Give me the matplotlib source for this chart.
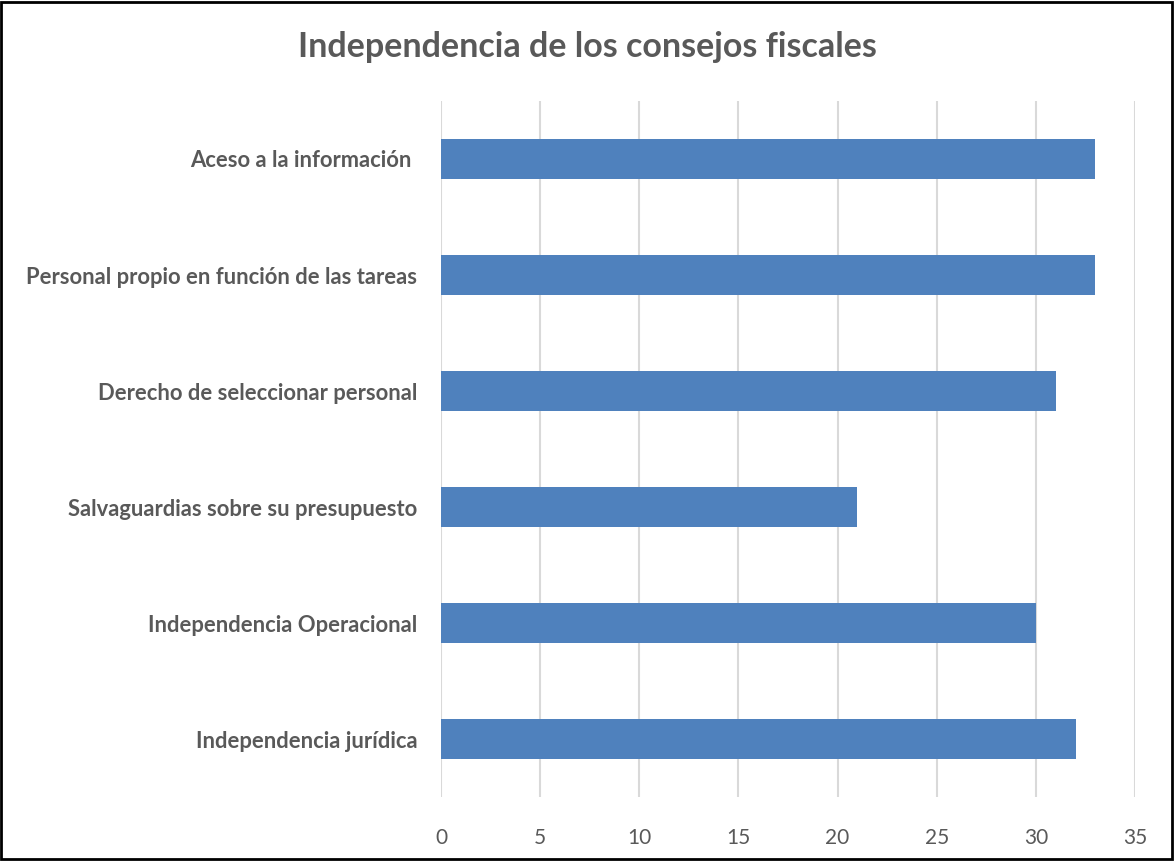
import matplotlib
matplotlib.use("Agg")
import matplotlib.pyplot as plt
from matplotlib.patches import Rectangle

plt.rcParams['font.family'] = ['Lato', 'DejaVu Sans']

# datos
categorias = ["Independencia jurídica",
              "Independencia Operacional",
              "Salvaguardias sobre su presupuesto",
              "Derecho de seleccionar personal",
              "Personal propio en función de las tareas",
              "Aceso a la información "]
valores = [32, 30, 21, 31, 33, 33]
ticks_x = [0, 5, 10, 15, 20, 25, 30, 35]

GRIS = '#595959'
AZUL = '#4f81bd'

fig = plt.figure(figsize=(11.74, 8.61), dpi=100)
ax = fig.add_axes([0.3756, 0.0743, 0.5912, 0.8084])

pos = range(len(categorias))
ax.barh(pos, valores, height=0.35, color=AZUL, zorder=3)

ax.set_xlim(0, 35)
ax.set_ylim(-0.5, len(categorias) - 0.5)
ax.set_xticks(ticks_x)
ax.set_yticks(list(pos))
ax.set_yticklabels(categorias, fontsize=15.8, fontweight='bold', color=GRIS)
ax.tick_params(axis='y', length=0, pad=17)
ax.tick_params(axis='x', length=0, pad=22, labelsize=15, labelcolor=GRIS)
ax.grid(axis='x', color='#d9d9d9', linewidth=1.5, zorder=0)
for s in ax.spines.values():
    s.set_visible(False)

fig.text(0.5, 0.945, "Independencia de los consejos fiscales", ha='center', va='center',
         fontsize=24.5, fontweight='bold', color=GRIS)

# marco
fig.patches.append(Rectangle((0.001, 0.002), 0.997, 0.996, transform=fig.transFigure,
                             fill=False, edgecolor='black', linewidth=2))

fig.savefig("out.png", dpi=100)
